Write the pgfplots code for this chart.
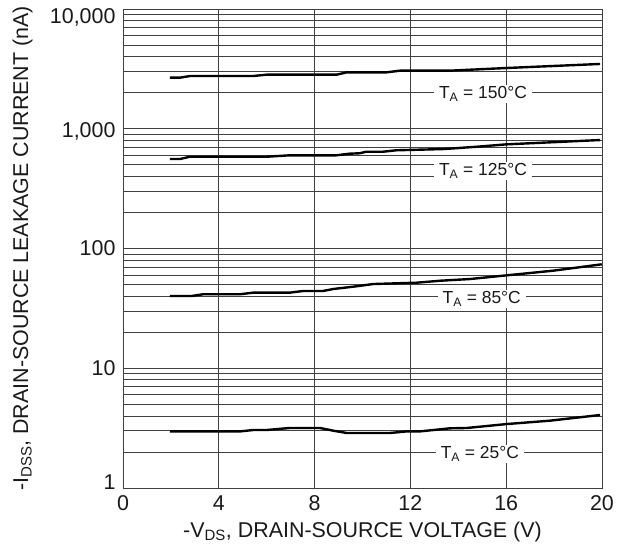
\documentclass[border=0pt]{standalone}
\usepackage{pgfplots}
\pgfplotsset{compat=1.18}
\usepackage{fontspec}
\setmainfont{Liberation Sans}

\pgfplotstableread{
x y
1.96 2670
2.38 2670
2.80 2757
5.44 2757
6.00 2829
8.92 2829
9.34 2958
11.0 2958
11.57 3055
13.65 3055
16.02 3216
19.92 3475
}\tA

\pgfplotstableread{
x y
1.96 559
2.38 559
2.80 584
6.00 584
6.96 600
8.90 600
9.46 619
9.88 624
10.16 643
10.86 643
11.41 661
13.40 677
14.79 708
16.02 741
19.92 805
}\tB

\pgfplotstableread{
x y
1.96 40.1
2.87 40.1
3.35 41.5
4.89 41.5
5.44 42.8
6.97 42.8
7.53 44.2
8.36 44.2
8.78 45.9
9.62 48.0
10.45 50.5
12.26 51.8
13.24 53.8
14.49 55.6
15.88 59.3
17.97 65.3
19.99 73.8
}\tC

\pgfplotstableread{
x y
1.96 2.97
4.89 2.97
5.44 3.05
6.00 3.05
6.96 3.17
8.23 3.17
8.78 3.01
9.34 2.88
11.15 2.88
11.85 2.97
12.40 2.97
13.65 3.15
14.35 3.17
16.02 3.42
17.83 3.65
19.92 4.07
}\tD

\begin{document}
\begin{tikzpicture}
\path[use as bounding box] (-123bp,-56bp) rectangle (499bp,488bp);
\begin{axis}[
    ymode=log,
    scale only axis,
    width=479bp, height=479bp,
    xmin=0, xmax=20,
    ymin=1, ymax=10000,
    xtick={0,4,8,12,16,20},
    xticklabels={0,4,8,12,16,20},
    ytick={1,10,100,1000,10000},
    yticklabels={},
    minor ytick={2,3,4,5,6,7,8,9,20,30,40,50,60,70,80,90,200,300,400,500,600,700,800,900,2000,3000,4000,5000,6000,7000,8000,9000},
    extra y ticks={1.122,10,100,944,8574},
    extra y tick labels={1,10,100,{1,000},{10,000}},
    extra y tick style={grid=none},
    major tick length=0pt, minor tick length=0pt,
    grid=both,
    major grid style={black!75, line width=0.8bp},
    minor grid style={black!75, line width=0.8bp},
    axis line style={black!75, line width=0.8bp},
    tick label style={font=\fontsize{21.5}{25}\selectfont, text=black!90},
    xticklabel style={anchor=base, yshift=-22bp},
    yticklabel style={anchor=east, xshift=-4bp},
    label style={font=\fontsize{21.5}{25}\selectfont, text=black!90},
    xlabel={-V\textsubscript{DS}, DRAIN-SOURCE VOLTAGE (V)},
    ylabel={-I\textsubscript{DSS}, DRAIN-SOURCE LEAKAGE CURRENT (nA)},
    xlabel style={at={(axis description cs:0.5,-0.1023)}, anchor=base},
    ylabel style={at={(axis description cs:-0.198,0.5)}, anchor=base},
    clip=false,
]
\addplot[black, line width=2.4bp] table {\tA};
\addplot[black, line width=2.4bp] table {\tB};
\addplot[black, line width=2.4bp] table {\tC};
\addplot[black, line width=2.4bp] table {\tD};
\tikzset{lbl/.style={fill=white, anchor=base, inner xsep=5bp, inner ysep=1.5bp,
    font=\fontsize{17.5}{20}\selectfont, text=black!90}}
\node[lbl] at (axis cs:15.03,1775) {T\textsubscript{A} = 150°C};
\node[lbl] at (axis cs:15.03,407) {T\textsubscript{A} = 125°C};
\node[lbl] at (axis cs:14.98,34.7) {T\textsubscript{A} = 85°C};
\node[lbl] at (axis cs:14.90,1.763) {T\textsubscript{A} = 25°C};
\end{axis}
\end{tikzpicture}
\end{document}
